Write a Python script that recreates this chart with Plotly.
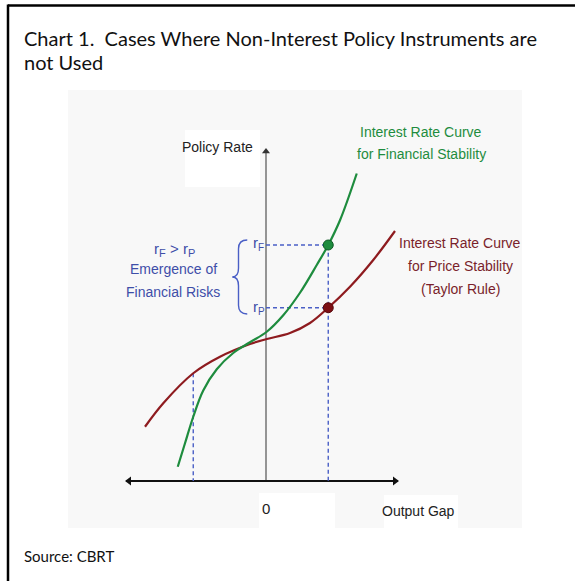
import plotly.graph_objects as go

# ---- data (output gap, policy rate) ----
gap_fin = [-3.53, -3.24, -2.91, -2.51, -1.97, -1.31, -0.64, 0.03, 0.69, 1.36, 2.03, 2.49, 2.96, 3.63]
rate_fin = [0.57, 1.51, 2.57, 3.62, 4.47, 5.12, 5.55, 5.97, 6.63, 7.53, 8.64, 9.44, 10.43, 12.3]

gap_price = [-4.84, -4.11, -2.91, -1.84, -0.64, 0.03, 0.96, 1.76, 2.49, 3.36, 4.29, 5.16]
rate_price = [2.17, 3.11, 4.31, 4.97, 5.48, 5.68, 5.92, 6.32, 6.93, 7.77, 8.84, 10.0]

gap_pos = 2.49      # positive output gap point
r_F = 9.44          # rate for financial stability
r_P = 6.93          # rate for price stability
gap_neg = -2.91     # negative output gap point
r_neg = 4.31

x_axis_ends = [-5.6, 5.28]
y_axis_top = 13.3

GREEN = "#1e8c3e"
RED = "#8e1b1f"
BLUE = "#4a5fc6"
TXT_BLUE = "#3e4ea8"
LABEL_FONT = "Liberation Sans, Arial, sans-serif"
TITLE_FONT = "Lato, Open Sans, sans-serif"

W, H = 576, 581
PX0, PY0, S = 266, 481, 25.0

fig = go.Figure()

# axes with arrowheads
fig.add_trace(go.Scatter(x=[0, 0], y=[0, y_axis_top - 0.1], mode="lines",
                         line=dict(color="#333", width=1), hoverinfo="skip"))
fig.add_trace(go.Scatter(x=[0], y=[y_axis_top - 0.12], mode="markers",
                         marker=dict(symbol="triangle-up", size=7, color="#333"), hoverinfo="skip"))
fig.add_trace(go.Scatter(x=x_axis_ends, y=[0, 0], mode="lines",
                         line=dict(color="#111", width=1.8), hoverinfo="skip"))
fig.add_trace(go.Scatter(x=[x_axis_ends[0] + 0.12], y=[0], mode="markers",
                         marker=dict(symbol="triangle-left", size=8, color="#111"), hoverinfo="skip"))
fig.add_trace(go.Scatter(x=[x_axis_ends[1] - 0.12], y=[0], mode="markers",
                         marker=dict(symbol="triangle-right", size=8, color="#111"), hoverinfo="skip"))

dash = dict(color=BLUE, width=1.4, dash="4px,3px")
fig.add_trace(go.Scatter(x=[0, gap_pos, gap_pos], y=[r_F, r_F, 0], mode="lines", line=dash, hoverinfo="skip"))
fig.add_trace(go.Scatter(x=[0, gap_pos], y=[r_P, r_P], mode="lines", line=dash, hoverinfo="skip"))
fig.add_trace(go.Scatter(x=[gap_neg, gap_neg], y=[r_neg, 0], mode="lines", line=dash, hoverinfo="skip"))

fig.add_trace(go.Scatter(x=gap_price, y=rate_price, mode="lines",
                         line=dict(color=RED, width=2.2, shape="spline", smoothing=1.0), hoverinfo="skip"))
fig.add_trace(go.Scatter(x=gap_fin, y=rate_fin, mode="lines",
                         line=dict(color=GREEN, width=2.2, shape="spline", smoothing=1.0), hoverinfo="skip"))

fig.add_trace(go.Scatter(x=[gap_pos], y=[r_F], mode="markers",
                         marker=dict(color=GREEN, size=10, line=dict(color="#0f5a25", width=1)), hoverinfo="skip"))
fig.add_trace(go.Scatter(x=[gap_pos], y=[r_P], mode="markers",
                         marker=dict(color="#7d0f14", size=10, line=dict(color="#55080b", width=1)), hoverinfo="skip"))

ann = []


def label(x, y, text, color="#222", size=14, xanchor="center", xshift=0, yshift=0):
    ann.append(dict(x=x, y=y, xref="x", yref="y", text=text, showarrow=False, xanchor=xanchor,
                    yanchor="middle", xshift=xshift, yshift=yshift, borderpad=0,
                    font=dict(family=LABEL_FONT, size=size, color=color)))


label(-1.96, 13.36, "Policy Rate")
label(0.0, -1.08, "0", size=15)
label(6.08, -1.2, "Output Gap")

label(6.2, 13.96, "Interest Rate Curve", GREEN)
label(6.2, 13.08, "for Financial Stability", GREEN)

label(7.76, 9.52, "Interest Rate Curve", "#7a1f2b")
label(7.76, 8.6, "for Price Stability", "#7a1f2b")
label(7.76, 7.68, "(Taylor Rule)", "#7a1f2b")

# "rF > rP" built from parts (main letters + lowered subscripts)
cx, cy = -3.72, 9.32
label(cx, cy, "r", TXT_BLUE, 15, "left", -20)
label(cx, cy, "F", TXT_BLUE, 11, "left", -15, -5)
label(cx, cy, ">", TXT_BLUE, 15, "left", -4)
label(cx, cy, "r", TXT_BLUE, 15, "left", 9)
label(cx, cy, "P", TXT_BLUE, 11, "left", 14, -5)
label(cx, 8.48, "Emergence of", TXT_BLUE)
label(cx, 7.56, "Financial Risks", TXT_BLUE)

# r_F / r_P labels beside the axis
lx = -0.32
label(lx, r_F + 0.1, "r", TXT_BLUE, 15, "right", 1)
label(lx, r_F + 0.1, "F", TXT_BLUE, 10, "left", -1, -5)
label(lx, r_P + 0.04, "r", TXT_BLUE, 15, "right", 1)
label(lx, r_P + 0.04, "P", TXT_BLUE, 10, "left", -1, -5)

ann.append(dict(x=22 / W, y=1 - 38 / H, xref="paper", yref="paper", xanchor="left", yanchor="middle",
                showarrow=False, text="Chart 1.  Cases Where Non-Interest Policy Instruments are",
                font=dict(family=TITLE_FONT, size=20, color="#111")))
ann.append(dict(x=22 / W, y=1 - 62 / H, xref="paper", yref="paper", xanchor="left", yanchor="middle",
                showarrow=False, text="not Used", font=dict(family=TITLE_FONT, size=20, color="#111")))
ann.append(dict(x=22 / W, y=1 - 556 / H, xref="paper", yref="paper", xanchor="left", yanchor="middle",
                showarrow=False, text="Source: CBRT", font=dict(family=TITLE_FONT, size=15, color="#111")))

# brace spanning r_P .. r_F
bx = -1.1
top = r_F + 0.2
bot = r_P - 0.25
mid = (top + bot) / 2
d = 0.35
brace = (f"M {bx + 0.35},{top} Q {bx},{top} {bx},{top - d} L {bx},{mid + d} "
         f"Q {bx},{mid} {bx - 0.25},{mid} Q {bx},{mid} {bx},{mid - d} L {bx},{bot + d} "
         f"Q {bx},{bot} {bx + 0.35},{bot}")


def px_x(px):
    return px / W


def px_y(py):
    return 1 - py / H


shapes = [
    dict(type="rect", xref="paper", yref="paper", x0=px_x(68), x1=px_x(522), y0=px_y(528), y1=px_y(90),
         fillcolor="#f8f8f8", line=dict(width=0), layer="below"),
    dict(type="rect", xref="paper", yref="paper", x0=px_x(185), x1=px_x(260), y0=px_y(187), y1=px_y(130),
         fillcolor="#ffffff", line=dict(width=0), layer="below"),
    dict(type="rect", xref="paper", yref="paper", x0=px_x(259), x1=px_x(335), y0=px_y(528), y1=px_y(493),
         fillcolor="#ffffff", line=dict(width=0), layer="below"),
    dict(type="rect", xref="paper", yref="paper", x0=px_x(384), x1=px_x(458), y0=px_y(528), y1=px_y(495),
         fillcolor="#ffffff", line=dict(width=0), layer="below"),
    dict(type="path", xref="x", yref="y", path=brace, line=dict(color=BLUE, width=1.4)),
    dict(type="line", xref="paper", yref="paper", x0=px_x(8), x1=px_x(575), y0=px_y(5.5), y1=px_y(5.5),
         line=dict(color="#000", width=2.5)),
    dict(type="line", xref="paper", yref="paper", x0=px_x(8), x1=px_x(8), y0=px_y(4.5), y1=0,
         line=dict(color="#000", width=2.5)),
]

fig.update_layout(
    width=W, height=H, autosize=False,
    margin=dict(l=0, r=0, t=0, b=0),
    paper_bgcolor="white", plot_bgcolor="rgba(0,0,0,0)",
    showlegend=False,
    xaxis=dict(range=[-PX0 / S, (W - PX0) / S], visible=False, fixedrange=True),
    yaxis=dict(range=[(PY0 - H) / S, PY0 / S], visible=False, fixedrange=True),
    annotations=ann, shapes=shapes,
)

fig.write_html("out.html", config={"displayModeBar": False},
               post_script="document.body.style.margin='0';document.body.style.padding='0';"
                           "document.body.style.overflow='hidden';")
